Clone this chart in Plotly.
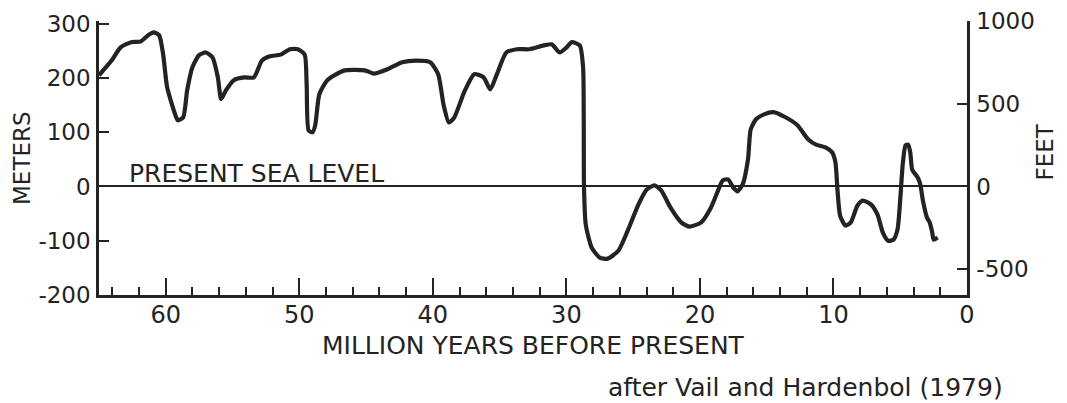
import plotly.graph_objects as go

# Age in million years before present
ages = [65.0, 64.0, 63.4, 62.6, 61.9, 61.3, 60.9, 60.5, 60.2, 59.9, 59.3, 59.1, 58.7, 58.4,
        58.0, 57.5, 57.0, 56.5, 56.1, 55.85, 55.5, 54.9, 54.1, 53.4, 52.8, 52.2, 51.4, 50.7,
        50.1, 49.6, 49.45, 49.3, 49.0, 48.8, 48.5, 47.9, 46.6, 45.1, 44.4, 43.4, 42.3, 41.2,
        40.2, 39.6, 39.2, 38.8, 38.4, 37.6, 36.9, 36.2, 35.7, 35.2, 34.5, 33.7, 32.8, 31.7,
        31.1, 30.5, 30.0, 29.6, 29.0, 28.75, 28.7, 28.68, 28.55, 28.1, 27.5, 26.9, 26.1, 25.4,
        24.6, 24.0, 23.4, 22.9, 22.2, 21.4, 20.8, 19.9, 19.2, 18.7, 18.3, 17.9, 17.5, 17.2,
        16.8, 16.4, 16.2, 15.8, 15.2, 14.5, 13.7, 12.7, 11.9, 11.3, 10.6, 10.1, 9.85, 9.7,
        9.5, 9.1, 8.7, 8.2, 7.8, 7.2, 6.7, 6.3, 5.9, 5.5, 5.2, 5.0, 4.8, 4.6, 4.4, 4.25,
        4.1, 3.7, 3.5, 3.3, 3.0, 2.8, 2.6, 2.5, 2.2]
# Sea level relative to present, in meters
sea_level_m = [205, 234, 256, 266, 267, 279, 284, 279, 244, 183, 133, 122, 127, 177,
               220, 242, 247, 238, 201, 161, 177, 196, 201, 201, 232, 240, 243, 253,
               253, 243, 188, 103, 100, 114, 170, 196, 214, 214, 208, 216, 229, 232,
               229, 207, 151, 118, 127, 177, 207, 201, 179, 207, 247, 253, 253, 260,
               262, 247, 256, 266, 260, 220, 127, -2, -70, -113, -131, -133, -118, -81,
               -33, -6, 2, -7, -39, -66, -74, -66, -40, -11, 11, 13, -2, -9,
               4, 50, 105, 124, 133, 137, 129, 113, 87, 77, 72, 63, 44, -6,
               -54, -72, -66, -35, -26, -33, -52, -85, -100, -98, -79, -24, 44, 76, 77, 63,
               31, 17, 4, -26, -57, -66, -85, -98, -94]

x_ticks = [60, 50, 40, 30, 20, 10, 0]
m_ticks = [300, 200, 100, 0, -100, -200]
m_labels = ["300", "200", "100", "0", "-100", "-200"]
ft_ticks = [1000, 500, 0, -500]
ft_labels = ["1000", "500", "0", "-500"]

FT_PER_M = 1 / 0.3048
m_range = [-200, 305]
ft_range = [v * FT_PER_M for v in m_range]

INK = "#232323"
FONT = "DejaVu Sans"

fig = go.Figure()
fig.add_trace(go.Scatter(x=ages, y=sea_level_m, mode="lines",
                         line=dict(color=INK, width=4.2, shape="spline", smoothing=0.6),
                         hoverinfo="skip", showlegend=False))
# helper trace so the feet axis is drawn
fig.add_trace(go.Scatter(x=[ages[0]], y=[sea_level_m[0] * FT_PER_M], yaxis="y2",
                         mode="lines", line=dict(width=0), hoverinfo="skip",
                         showlegend=False))

fig.update_layout(
    template="none",
    width=1067, height=403,
    margin=dict(l=99, r=100, t=21, b=108, autoexpand=False),
    paper_bgcolor="white", plot_bgcolor="white",
    font=dict(family=FONT, color=INK, size=23),
    xaxis=dict(range=[65, 0], tickvals=x_ticks, ticks="inside", ticklen=17, tickwidth=2,
               tickcolor=INK, showline=True, linecolor=INK, linewidth=2.5, mirror=False,
               showgrid=False, zeroline=False, ticklabelstandoff=-4, automargin=False,
               tickfont=dict(size=24),
               minor=dict(dtick=2, ticks="inside", ticklen=8, tickwidth=2, tickcolor=INK,
                          showgrid=False)),
    yaxis=dict(range=m_range, tickvals=m_ticks, ticktext=m_labels, ticks="inside",
               ticklen=10, tickwidth=2, tickcolor=INK, showline=True, linecolor=INK,
               linewidth=2.5, showgrid=False, zeroline=True, zerolinecolor=INK,
               zerolinewidth=1.6, ticklabelstandoff=1, automargin=False,
               tickfont=dict(size=23)),
    yaxis2=dict(range=ft_range, tickvals=ft_ticks, ticktext=ft_labels, overlaying="y",
                side="right", anchor="x", ticks="inside", ticklen=10, tickwidth=2,
                tickcolor=INK, showline=True, linecolor=INK, linewidth=2.5,
                showgrid=False, zeroline=False, ticklabelstandoff=2, automargin=False,
                tickfont=dict(size=23)),
)

fig.add_annotation(text="PRESENT SEA LEVEL", x=62.9, y=24, xref="x", yref="y",
                   xanchor="left", yanchor="middle", showarrow=False,
                   font=dict(size=25, family=FONT, color=INK))
fig.add_annotation(text="METERS", x=0, y=0.5, xref="paper", yref="paper", xshift=-77,
                   textangle=-90, xanchor="center", yanchor="middle", showarrow=False,
                   font=dict(size=23, family=FONT, color=INK))
fig.add_annotation(text="FEET", x=1, y=0.52, xref="paper", yref="paper", xshift=78,
                   textangle=-90, xanchor="center", yanchor="middle", showarrow=False,
                   font=dict(size=23, family=FONT, color=INK))
fig.add_annotation(text="MILLION YEARS BEFORE PRESENT", x=0.5, y=0, xref="paper",
                   yref="paper", yshift=-50, xanchor="center", yanchor="middle",
                   showarrow=False, font=dict(size=25, family=FONT, color=INK))
fig.add_annotation(text="after Vail and Hardenbol (1979)", x=1, y=0, xref="paper",
                   yref="paper", xshift=38, yshift=-92, xanchor="right", yanchor="middle",
                   showarrow=False, font=dict(size=25, family=FONT, color=INK))

fig.write_html("out.html", config={"displayModeBar": False},
               post_script="document.body.style.margin='0';")
